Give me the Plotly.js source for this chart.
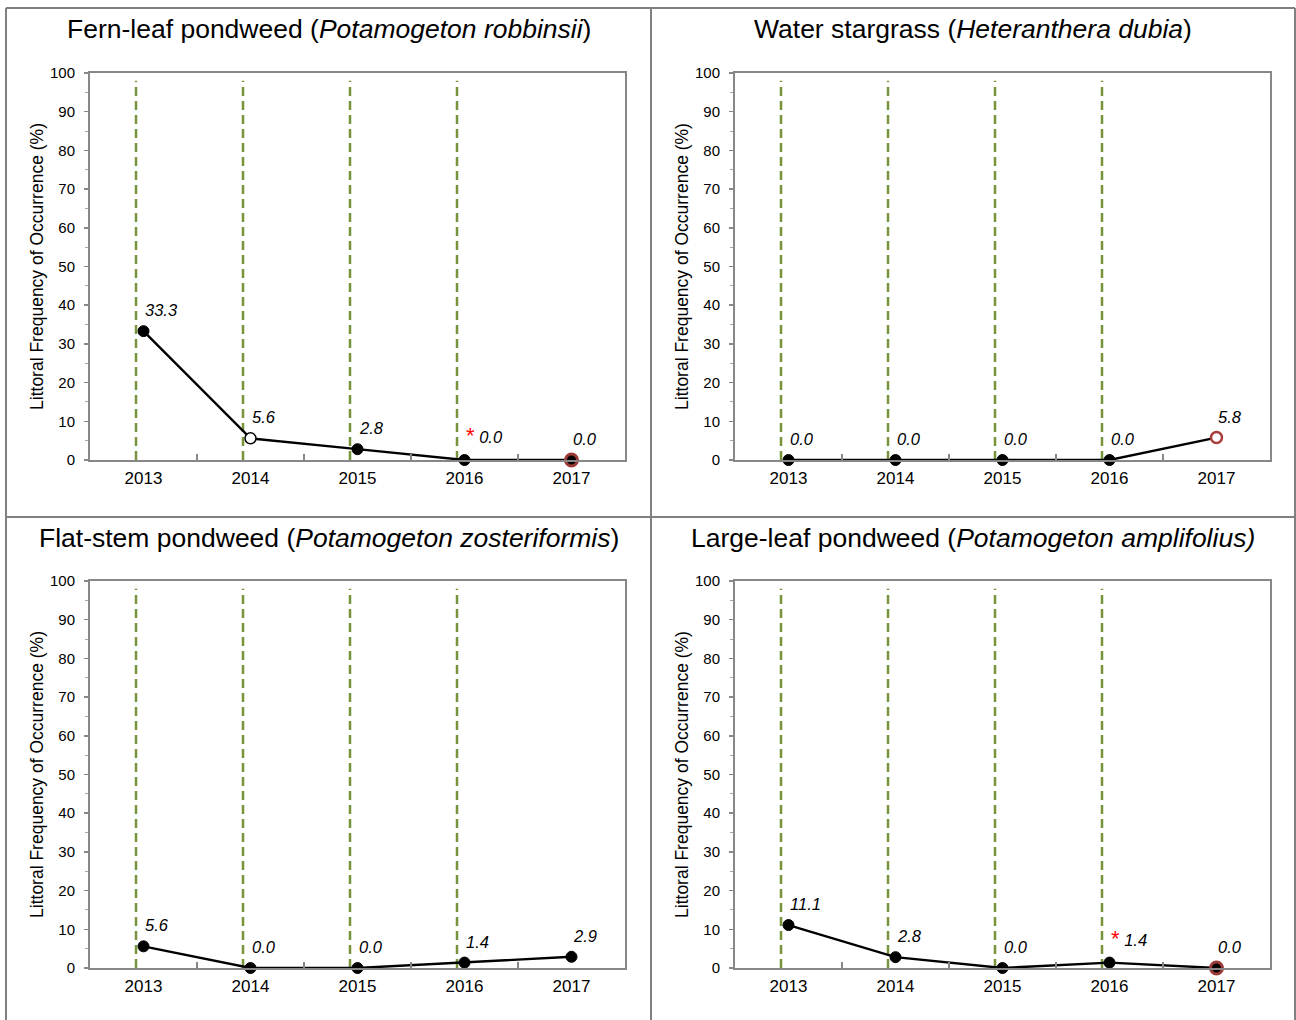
<!DOCTYPE html>
<html><head><meta charset="utf-8">
<script src="https://cdn.plot.ly/plotly-3.0.1.min.js"></script>
<style>html,body{margin:0;padding:0;background:#fff}#chart{width:1296px;height:1020px}</style>
</head><body><div id="chart"></div>
<script>
// ---- data ----
const years = ['2013', '2014', '2015', '2016', '2017'];
const fernLeafValues = [33.3, 5.6, 2.8, 0.0, 0.0];
const stargrassValues = [0.0, 0.0, 0.0, 0.0, 5.8];
const flatStemValues = [5.6, 0.0, 0.0, 1.4, 2.9];
const largeLeafValues = [11.1, 2.8, 0.0, 1.4, 0.0];
const fernLeafPointType = ['filled', 'open', 'filled', 'filled', 'redFilled'];
const stargrassPointType = ['filled', 'filled', 'filled', 'filled', 'redOpen'];
const flatStemPointType = ['filled', 'filled', 'filled', 'filled', 'filled'];
const largeLeafPointType = ['filled', 'filled', 'filled', 'filled', 'redFilled'];
const fernLeafSignificant = [false, false, false, true, false];
const stargrassSignificant = [false, false, false, false, false];
const flatStemSignificant = [false, false, false, false, false];
const largeLeafSignificant = [false, false, false, true, false];
const markedYears = ['2013', '2014', '2015', '2016'];
const yTickValues = [0, 10, 20, 30, 40, 50, 60, 70, 80, 90, 100];
const panelTitles = [
  'Fern-leaf pondweed (<i>Potamogeton robbinsii</i>)',
  'Water stargrass (<i>Heteranthera dubia</i>)',
  'Flat-stem pondweed (<i>Potamogeton zosteriformis</i>)',
  'Large-leaf pondweed (<i>Potamogeton amplifolius)</i>'
];
const yAxisTitle = 'Littoral Frequency of Occurrence (%)';

// ---- layout helpers ----
const W = 1296, H = 1020;
const FONT = 'Liberation Sans, Arial, sans-serif';
const px = v => v / W;
const py = v => 1 - v / H;
const panels = [
  {values: fernLeafValues, types: fernLeafPointType, flags: fernLeafSignificant, xd: [90, 625], yd: [73, 460], box: [6, 651, 8, 517]},
  {values: stargrassValues, types: stargrassPointType, flags: stargrassSignificant, xd: [735, 1270], yd: [73, 460], box: [651, 1295, 8, 517]},
  {values: flatStemValues, types: flatStemPointType, flags: flatStemSignificant, xd: [90, 625], yd: [581, 968], box: [6, 651, 517, 1020]},
  {values: largeLeafValues, types: largeLeafPointType, flags: largeLeafSignificant, xd: [735, 1270], yd: [581, 968], box: [651, 1295, 517, 1020]}
];
const markerStyle = {
  filled:    {fill: '#000000', line: '#000000', lw: 1,   size: 11},
  open:      {fill: '#ffffff', line: '#000000', lw: 1.5, size: 11},
  redFilled: {fill: '#000000', line: '#9C3A38', lw: 3,   size: 12},
  redOpen:   {fill: '#ffffff', line: '#A83C3A', lw: 2.5, size: 11}
};
const AXIS_GRAY = '#878787';

const data = [];
const layout = {
  width: W, height: H,
  margin: {l: 0, r: 0, t: 0, b: 0},
  paper_bgcolor: '#ffffff', plot_bgcolor: '#ffffff',
  showlegend: false,
  font: {family: FONT, color: '#000000'},
  shapes: [], annotations: []
};

// panel frame lines
[[6, 8, 6, 1020], [651, 8, 651, 1020], [1295, 8, 1295, 1020], [6, 8, 1295, 8], [6, 517, 1295, 517]].forEach(l => {
  layout.shapes.push({type: 'line', xref: 'paper', yref: 'paper', x0: px(l[0]), y0: py(l[1]), x1: px(l[2]), y1: py(l[3]),
    line: {color: '#808080', width: 2}});
});

panels.forEach((p, i) => {
  const s = i === 0 ? '' : String(i + 1);
  const xa = 'x' + s, ya = 'y' + s;
  data.push({
    type: 'scatter', mode: 'lines+markers', x: years, y: p.values,
    xaxis: xa, yaxis: ya, cliponaxis: false, hoverinfo: 'skip',
    line: {color: '#000000', width: 2.4},
    marker: {
      symbol: 'circle', opacity: 1,
      size: p.types.map(t => markerStyle[t].size),
      color: p.types.map(t => markerStyle[t].fill),
      line: {color: p.types.map(t => markerStyle[t].line), width: p.types.map(t => markerStyle[t].lw)}
    }
  });
  layout['xaxis' + s] = {
    type: 'category', domain: [px(p.xd[0]), px(p.xd[1])], anchor: ya,
    range: [-0.5, years.length - 0.5], fixedrange: true,
    showline: true, linecolor: AXIS_GRAY, linewidth: 2, mirror: true,
    ticks: '', showgrid: false, zeroline: false, ticklabelstandoff: 2,
    tickfont: {size: 17, family: FONT, color: '#000000'}
  };
  layout['yaxis' + s] = {
    domain: [py(p.yd[1]), py(p.yd[0])], anchor: xa, range: [0, 100], fixedrange: true,
    tickmode: 'array', tickvals: yTickValues, ticktext: yTickValues.map(String),
    ticks: 'outside', ticklen: 4, tickwidth: 1.5, tickcolor: AXIS_GRAY, ticklabelstandoff: 6,
    minor: {dtick: 5, tick0: 0, ticks: 'outside', ticklen: 3, tickwidth: 1, tickcolor: '#a6a6a6', showgrid: false},
    showline: true, linecolor: AXIS_GRAY, linewidth: 2, mirror: true,
    showgrid: false, zeroline: false,
    tickfont: {size: 15, family: FONT, color: '#000000'},
    title: {text: yAxisTitle, font: {size: 17.5, family: FONT, color: '#000000'}, standoff: 2}
  };
  // green dashed markers for years
  markedYears.forEach(yr => {
    const k = years.indexOf(yr);
    layout.shapes.push({type: 'line', layer: 'below', xref: xa, yref: ya, x0: k - 0.07, x1: k - 0.07, y0: 0, y1: 98,
      line: {color: '#77933C', width: 2.5, dash: '9px,5px'}});
  });
  // category boundary ticks crossing the x axis
  for (let k = 0; k < years.length - 1; k++) {
    layout.shapes.push({type: 'line', xref: xa, yref: ya, ysizemode: 'pixel', yanchor: 0,
      x0: k + 0.5, x1: k + 0.5, y0: -6, y1: 6, line: {color: AXIS_GRAY, width: 2}});
  }
  // data labels
  p.values.forEach((v, k) => {
    const star = p.flags[k] ? '<span style="color:#ff0000;font-size:22px">*</span> ' : '';
    layout.annotations.push({xref: xa, yref: ya, x: k, y: v, xanchor: 'left', yanchor: 'bottom',
      xshift: -1, yshift: 10, showarrow: false, text: star + '<i>' + v.toFixed(1) + '</i>',
      font: {size: 16.5, family: FONT, color: '#000000'}});
  });
  // panel title
  layout.annotations.push({xref: 'paper', yref: 'paper', x: px((p.box[0] + p.box[1]) / 2), y: py(p.box[2] + 21),
    xanchor: 'center', yanchor: 'middle', showarrow: false, text: panelTitles[i],
    font: {size: 26.5, family: FONT, color: '#000000'}});
});

Plotly.newPlot('chart', data, layout, {displayModeBar: false, staticPlot: true});
</script>
</body></html>
